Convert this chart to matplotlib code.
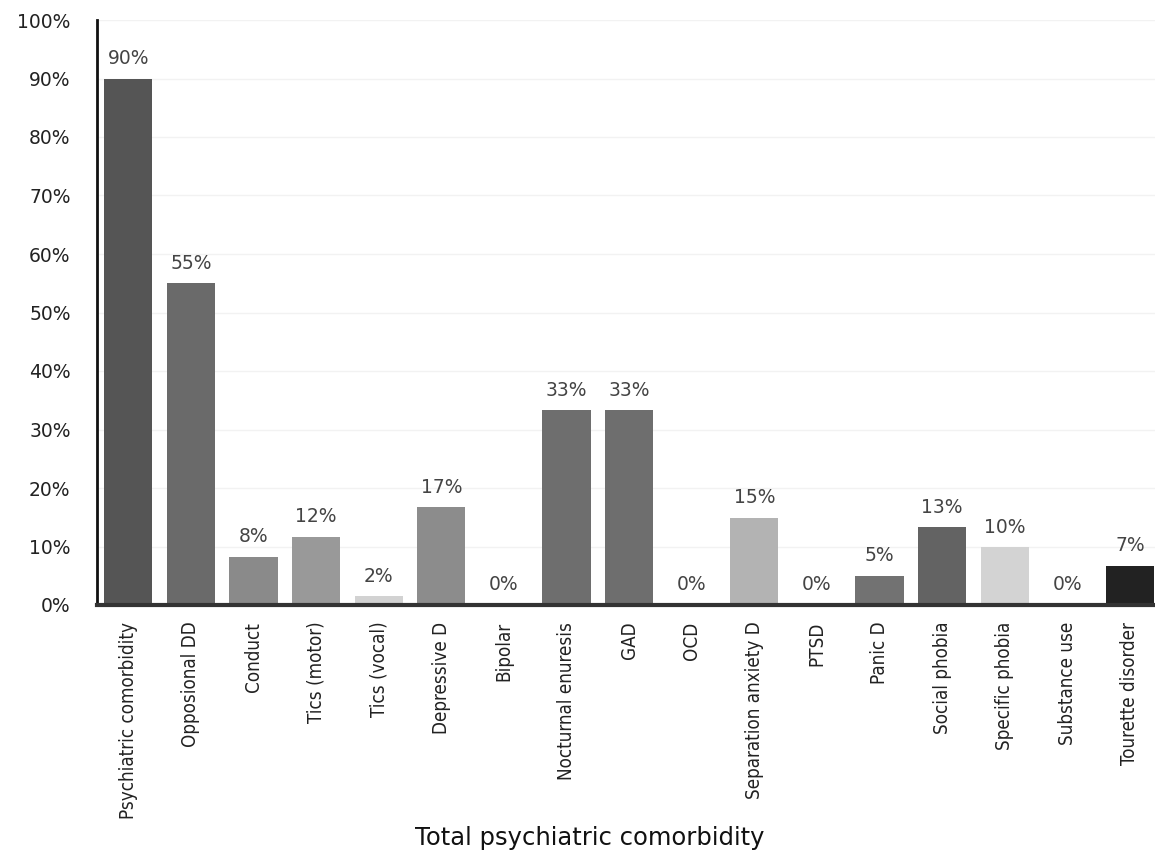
import numpy as np
import matplotlib.pyplot as plt

categories = ["Psychiatric comorbidity", "Opposional DD", "Conduct", "Tics (motor)",
              "Tics (vocal)", "Depressive D", "Bipolar", "Nocturnal enuresis", "GAD",
              "OCD", "Separation anxiety D", "PTSD", "Panic D", "Social phobia",
              "Specific phobia", "Substance use", "Tourette disorder"]
values = [90, 55, 8.2, 11.7, 1.5, 16.7, 0, 33.3, 33.3, 0, 14.9, 0, 5.0, 13.3, 9.9, 0, 6.7]
labels = ["90%", "55%", "8%", "12%", "2%", "17%", "0%", "33%", "33%", "0%",
          "15%", "0%", "5%", "13%", "10%", "0%", "7%"]
colors = ["#555555", "#6a6a6a", "#8a8a8a", "#999999", "#d2d2d2", "#8c8c8c", "#888888",
          "#6e6e6e", "#6e6e6e", "#888888", "#b3b3b3", "#888888", "#727272", "#636363",
          "#d3d3d3", "#888888", "#222222"]

fig = plt.figure(figsize=(11.55, 8.5), dpi=100)
ax = fig.add_axes([97 / 1155, 1 - 605 / 850, 1 - 97 / 1155, (605 - 20) / 850])

x = np.arange(len(categories))
ax.bar(x, values, width=0.77, color=colors, zorder=2)

# value labels above each bar
for xi, v, lab in zip(x, values, labels):
    ax.text(xi, v + 1.8, lab, ha="center", va="bottom", fontsize=13.5,
            color="#444444", family="DejaVu Sans")

ax.set_xlim(-0.5, 16.4)
ax.set_ylim(0, 100)
ax.set_yticks(np.arange(0, 101, 10))
ax.set_yticklabels([f"{t}%" for t in range(0, 101, 10)], fontsize=13.5, color="#222222")
ax.set_xticks(x)
ax.set_xticklabels(categories, rotation=90, fontsize=13.5, color="#222222",
                   family="DejaVu Sans", fontstretch="condensed")
ax.tick_params(axis="y", length=0, pad=19)
ax.tick_params(axis="x", length=0, pad=12)

ax.grid(axis="y", color="#f2f2f2", linewidth=1, zorder=0)
for s in ["top", "right"]:
    ax.spines[s].set_visible(False)
ax.spines["left"].set_linewidth(2)
ax.spines["left"].set_color("#111111")
ax.spines["bottom"].set_linewidth(3)
ax.spines["bottom"].set_color("#333333")

fig.text(590 / 1155, 1 - 838 / 850, "Total psychiatric comorbidity", ha="center",
         va="center", fontsize=17.5, color="#111111")

fig.savefig("out.png", dpi=100)
